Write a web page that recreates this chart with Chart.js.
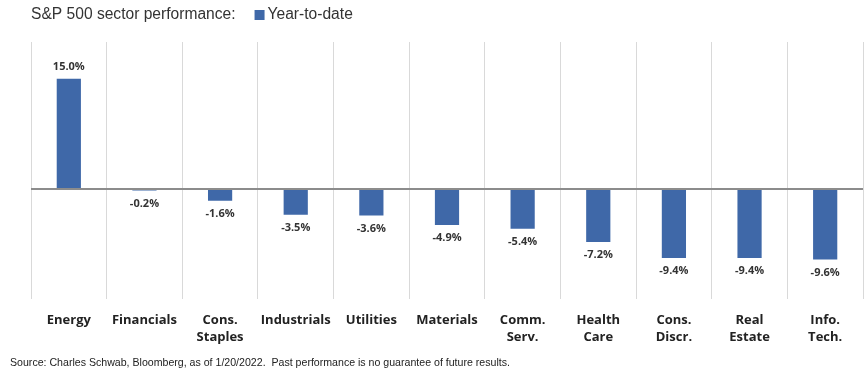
<!DOCTYPE html>
<html>
<head>
<meta charset="utf-8">
<script src="https://cdn.jsdelivr.net/npm/chart.js@4/dist/chart.umd.min.js"></script>
<style>
  html, body { margin: 0; padding: 0; background: #fff; }
  #wrap { position: relative; width: 864px; height: 374px; }
</style>
</head>
<body>
<div id="wrap"><canvas id="chart" width="864" height="374"></canvas></div>
<script>
// sectors and year-to-date returns (%)
var sectors = [
  ["Energy"], ["Financials"], ["Cons.", "Staples"], ["Industrials"], ["Utilities"],
  ["Materials"], ["Comm.", "Serv."], ["Health", "Care"], ["Cons.", "Discr."],
  ["Real", "Estate"], ["Info.", "Tech."]
];
var ytd = [15.0, -0.2, -1.6, -3.5, -3.6, -4.9, -5.4, -7.2, -9.4, -9.4, -9.6];
var yMin = -15;
var yMax = 20;

var titleText = "S&P 500 sector performance:";
var seriesName = "Year-to-date";
var sourceText = "Source: Charles Schwab, Bloomberg, as of 1/20/2022.  Past performance is no guarantee of future results.";

var barColor = "#3f68a8";

// header, legend, footer and value labels
var extras = {
  id: "extras",
  afterDatasetsDraw: function(chart) {
    var ctx = chart.ctx;
    var meta = chart.getDatasetMeta(0);
    ctx.save();
    ctx.fillStyle = "#333";
    ctx.font = "bold 11px 'Open Sans', sans-serif";
    ctx.textAlign = "center";
    ctx.textBaseline = "middle";
    meta.data.forEach(function(bar, i) {
      var v = ytd[i];
      var y = v >= 0 ? bar.y - 12 : bar.y + 13;
      ctx.fillText(v.toFixed(1) + "%", bar.x, y);
    });
    ctx.restore();
  },
  afterDraw: function(chart) {
    var ctx = chart.ctx;
    ctx.save();
    ctx.textBaseline = "middle";
    ctx.textAlign = "left";
    ctx.fillStyle = "#333";
    ctx.font = "15.6px 'Liberation Sans', Arial, sans-serif";
    ctx.fillText(titleText, 31, 15);
    var w = ctx.measureText(titleText).width;
    var lx = 31 + w + 19;
    ctx.fillStyle = barColor;
    ctx.fillRect(lx, 10, 10, 10);
    ctx.fillStyle = "#333";
    ctx.fillText(seriesName, lx + 13, 15);
    ctx.font = "10.6px 'Liberation Sans', Arial, sans-serif";
    ctx.fillStyle = "#222";
    ctx.fillText(sourceText, 10, 363);
    ctx.restore();
  }
};

new Chart(document.getElementById("chart"), {
  type: "bar",
  data: {
    labels: sectors,
    datasets: [{
      label: seriesName,
      data: ytd,
      backgroundColor: barColor,
      barPercentage: 0.32,
      categoryPercentage: 1.0
    }]
  },
  options: {
    responsive: false,
    animation: false,
    layout: { padding: { left: 31, right: 1, top: 42, bottom: 15 } },
    plugins: {
      legend: { display: false },
      title: { display: false },
      tooltip: { enabled: false }
    },
    scales: {
      x: {
        grid: { display: true, offset: true, color: "#d9d9d9", lineWidth: 1, drawTicks: false },
        border: { display: false },
        ticks: {
          color: "#222",
          font: { family: "'Open Sans', sans-serif", size: 13, weight: "bold", lineHeight: 1.3 },
          padding: 13,
          maxRotation: 0,
          autoSkip: false
        }
      },
      y: {
        min: yMin,
        max: yMax,
        ticks: { display: false, stepSize: 5 },
        border: { display: false },
        grid: {
          drawTicks: false,
          lineWidth: 2,
          color: function(c) { return c.tick && c.tick.value === 0 ? "#8c8c8c" : "rgba(0,0,0,0)"; }
        }
      }
    }
  },
  plugins: [extras]
});
</script>
</body>
</html>
